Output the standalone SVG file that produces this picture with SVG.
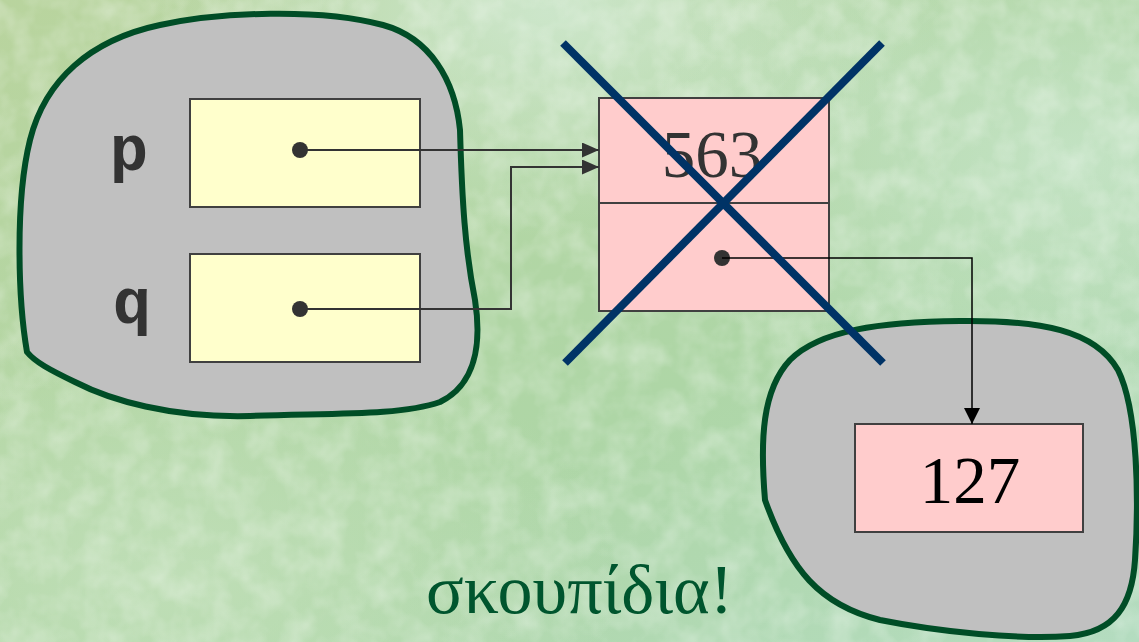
<svg xmlns="http://www.w3.org/2000/svg" width="1139" height="642" viewBox="0 0 1139 642">
  <defs>
    <linearGradient id="bgDiag" x1="0" y1="0" x2="1" y2="1">
      <stop offset="0" stop-color="#B9D49E"/>
      <stop offset="0.35" stop-color="#B3D6A4"/>
      <stop offset="0.6" stop-color="#AED6A6"/>
      <stop offset="1" stop-color="#B4DCC0"/>
    </linearGradient>
    <radialGradient id="bgLight1" cx="0.48" cy="0.02" r="0.35">
      <stop offset="0" stop-color="#D2EAD4" stop-opacity="0.8"/>
      <stop offset="1" stop-color="#D2EAD4" stop-opacity="0"/>
    </radialGradient>
    <radialGradient id="bgLight2" cx="0.95" cy="0.25" r="0.4">
      <stop offset="0" stop-color="#CCE8D0" stop-opacity="0.7"/>
      <stop offset="1" stop-color="#CCE8D0" stop-opacity="0"/>
    </radialGradient>
    <radialGradient id="bgLight3" cx="0.15" cy="0.9" r="0.4">
      <stop offset="0" stop-color="#C6E2BE" stop-opacity="0.7"/>
      <stop offset="1" stop-color="#C6E2BE" stop-opacity="0"/>
    </radialGradient>
    <filter id="tex" x="0" y="0" width="100%" height="100%">
      <feTurbulence type="fractalNoise" baseFrequency="0.035" numOctaves="3" seed="7" result="n"/>
      <feColorMatrix in="n" type="matrix" values="0 0 0 0 1  0 0 0 0 1  0 0 0 0 1  0 0 0 -1.6 1.05"/>
    </filter>
    <marker id="arrDark" viewBox="0 0 17 15" refX="17" refY="7.5" markerWidth="17" markerHeight="15" markerUnits="userSpaceOnUse" orient="auto">
      <path d="M0,0 L17,7.5 L0,15 Z" fill="#333333"/>
    </marker>
    <marker id="arrBlack" viewBox="0 0 16 17" refX="16" refY="8" markerWidth="16" markerHeight="17" markerUnits="userSpaceOnUse" orient="auto">
      <path d="M0,0 L16,8 L0,16 Z" fill="#000000"/>
    </marker>
  </defs>
  <style>
    .scope { fill: #C0C0C0; stroke: #004D26; stroke-width: 6; stroke-linejoin: round; }
    .var { fill: #FFFFCC; stroke: #404040; stroke-width: 2; }
    .cell { fill: #FFCCCC; stroke: #404040; stroke-width: 2; }
    .vname { font-family: "Liberation Mono", "DejaVu Sans Mono", monospace; font-weight: bold; font-size: 64px; fill: #333333; text-anchor: middle; }
    .num { font-family: "Liberation Serif", "DejaVu Serif", serif; font-size: 67px; text-anchor: middle; }
    .dot { fill: #333333; }
    .conn { fill: none; stroke: #333333; stroke-width: 2; }
    .connb { fill: none; stroke: #000000; stroke-width: 1.5; }
    .cross { stroke: #003366; stroke-width: 8; }
    .caption { font-family: "Liberation Serif", "DejaVu Serif", serif; font-size: 70px; fill: #00552E; }
  </style>

  <!-- background -->
  <rect width="1139" height="642" fill="url(#bgDiag)"/>
  <rect width="1139" height="642" fill="url(#bgLight1)"/>
  <rect width="1139" height="642" fill="url(#bgLight2)"/>
  <rect width="1139" height="642" fill="url(#bgLight3)"/>
  <rect width="1139" height="642" filter="url(#tex)" opacity="0.35"/>

  <g id="scope-left">
    <path class="scope" d="M27,352 C18,300 15,200 30,140 C45,80 90,40 160,25 C220,12 320,8 383,25 C430,38 455,80 460,130 C462,200 465,250 475,300 C482,345 475,385 440,402 C400,416 330,413 250,416 C170,418 110,400 75,382 C50,370 35,362 27,352 Z"/>
  </g>

  <g id="scope-right">
    <path class="scope" d="M765,500 C760,440 762,390 790,360 C820,330 880,322 960,321 C1040,320 1095,330 1118,370 C1138,410 1139,500 1135,560 C1132,605 1115,632 1070,636 C1020,640 940,632 880,620 C820,605 790,570 765,500 Z"/>
  </g>

  <g id="node-p">
    <text class="vname" x="129" y="170">p</text>
    <rect class="var" x="190" y="99" width="230" height="108"/>
    <circle class="dot" cx="300" cy="150" r="8"/>
  </g>

  <g id="node-q">
    <text class="vname" x="132" y="323">q</text>
    <rect class="var" x="190" y="254" width="230" height="108"/>
    <circle class="dot" cx="300" cy="309" r="8"/>
  </g>

  <g id="node-563">
    <rect class="cell" x="599" y="98" width="230" height="213"/>
    <line x1="599" y1="203" x2="829" y2="203" stroke="#404040" stroke-width="2"/>
    <text class="num" x="712" y="177" fill="#333333">563</text>
    <circle class="dot" cx="722" cy="258" r="8"/>
  </g>

  <g id="node-127">
    <rect class="cell" x="855" y="424" width="228" height="108"/>
    <text class="num" x="970" y="503" fill="#000000">127</text>
  </g>

  <g id="connectors">
    <path class="conn" d="M300,150 H599" marker-end="url(#arrDark)"/>
    <path class="conn" d="M300,309 H511 V166 M511,167 H599" marker-end="url(#arrDark)"/>
    <path class="connb" d="M722,258 H972 V424" marker-end="url(#arrBlack)"/>
  </g>

  <g id="cross">
    <line class="cross" x1="563" y1="43" x2="883" y2="363"/>
    <line class="cross" x1="882" y1="43" x2="565" y2="363"/>
  </g>

  <text class="caption" x="426" y="613">σκουπίδια!</text>
</svg>
